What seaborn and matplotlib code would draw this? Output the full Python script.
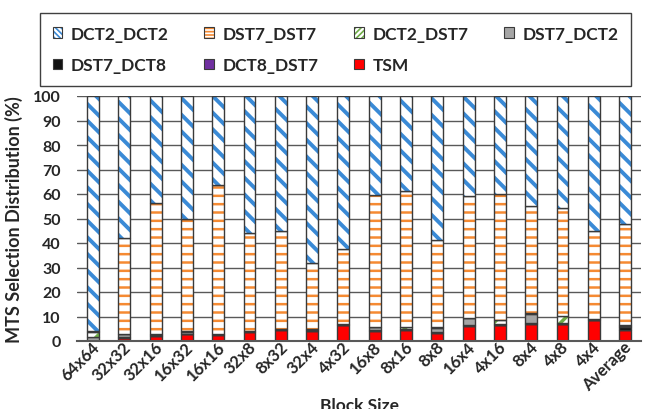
import numpy as np
import matplotlib
matplotlib.use("Agg")
import matplotlib.pyplot as plt
import seaborn as sns
from matplotlib.patches import Patch
from matplotlib.transforms import ScaledTranslation

# block sizes on the x axis
blocks = ["64x64", "32x32", "32x16", "16x32", "16x16", "32x8", "8x32", "32x4", "4x32",
          "16x8", "8x16", "8x8", "16x4", "4x16", "8x4", "4x8", "4x4", "Average"]

# selection share (%) per transform pair, stacked bottom -> top
tsm       = [0.0, 1.3, 2.0, 2.7, 2.5, 3.7, 4.5, 4.2, 6.5, 4.0, 4.5, 3.1, 6.2, 6.5, 7.0, 6.8, 8.5, 4.5]
dct8_dst7 = [0.0, 0.0, 0.0, 0.0, 0.0, 0.0, 0.0, 0.0, 0.0, 0.0, 0.0, 0.0, 0.0, 0.0, 0.0, 0.0, 0.0, 0.0]
dst7_dct8 = [0.0, 0.3, 0.5, 0.3, 0.2, 0.2, 0.2, 0.2, 0.1, 0.3, 0.3, 0.5, 0.3, 0.2, 0.2, 0.2, 0.1, 1.2]
dst7_dct2 = [1.5, 1.2, 0.3, 0.8, 0.2, 0.2, 0.2, 0.2, 0.2, 1.3, 0.3, 1.8, 2.8, 0.3, 4.0, 0.3, 0.2, 0.4]
dct2_dst7 = [2.0, 0.2, 0.2, 0.2, 0.1, 0.1, 0.1, 0.1, 0.1, 0.2, 0.6, 0.4, 0.2, 1.5, 0.2, 3.0, 0.1, 0.3]
dst7_dst7 = [0.5, 39.0, 53.3, 45.7, 60.7, 39.8, 39.9, 27.0, 30.8, 53.8, 55.4, 35.4, 49.5, 51.5, 43.6, 44.0, 35.9, 41.4]
dct2_dct2 = [96.0, 58.0, 43.7, 50.3, 36.3, 56.0, 55.1, 68.3, 62.3, 40.4, 38.9, 58.8, 41.0, 40.0, 45.0, 45.7, 55.2, 52.2]

sns.set_style("white")
plt.rcParams["font.family"] = ["Lato", "DejaVu Sans"]
plt.rcParams["font.weight"] = "bold"

fig = plt.figure(figsize=(6.52, 4.10), dpi=100)
ax = fig.add_axes([77.4 / 652, 68 / 410, 563.3 / 652, 245 / 410])

edge = "#3a3a3a"
# name, values, fill colour, hatch colour, hatch, hatch width, legend hatch
series = [
    ("TSM", tsm, "#ff0000", None, None, 0, None),
    ("DCT8_DST7", dct8_dst7, "#7030a0", None, None, 0, None),
    ("DST7_DCT8", dst7_dct8, "#111111", None, None, 0, None),
    ("DST7_DCT2", dst7_dct2, "#a5a5a5", None, None, 0, None),
    ("DCT2_DST7", dct2_dst7, "white", "#70ad47", "//", 2.5, "//////"),
    ("DST7_DST7", dst7_dst7, "white", "#f58a32", "--", 1.8, "-----"),
    ("DCT2_DCT2", dct2_dct2, "white", "#3a8ad6", "\\\\", 2.8, "\\\\\\\\\\\\"),
]

bottom = np.zeros(len(blocks))
handles = {}
for name, vals, color, hcol, hatch, hlw, lhatch in series:
    if hatch:
        plt.rcParams["hatch.linewidth"] = hlw
        sns.barplot(x=blocks, y=vals, bottom=bottom, color=color, edgecolor=hcol,
                    hatch=hatch, linewidth=0, width=0.38, saturation=1,
                    errorbar=None, ax=ax)
        handles[name] = (Patch(facecolor="white", edgecolor=hcol, hatch=lhatch, linewidth=0),
                         Patch(fill=False, edgecolor=edge, linewidth=0.8))
    else:
        sns.barplot(x=blocks, y=vals, bottom=bottom, color=color, linewidth=0,
                    width=0.38, saturation=1, errorbar=None, ax=ax)
        handles[name] = Patch(facecolor=color, edgecolor=edge, linewidth=0.8)
    sns.barplot(x=blocks, y=vals, bottom=bottom, fill=False, color=edge,
                linewidth=1.0, width=0.38, errorbar=None, ax=ax)
    bottom = bottom + np.array(vals)

ax.set_xlim(-0.5, len(blocks) - 0.5)
ax.set_ylim(0, 100)
ax.set_yticks(range(0, 101, 10))
ax.yaxis.grid(True, color="#595959", linewidth=1.0)
ax.set_axisbelow(True)
for s in ["left", "right", "top"]:
    ax.spines[s].set_visible(False)
ax.spines["bottom"].set_color("#595959")
ax.spines["bottom"].set_linewidth(1.5)
ax.tick_params(axis="y", length=0, pad=12, labelsize=11.5)
ax.tick_params(axis="x", length=0, pad=2)
ax.set_xticks(range(len(blocks)))
ax.set_xticklabels(blocks, rotation=45, ha="right", va="center",
                   rotation_mode="anchor", fontsize=12, fontweight="bold")
for lbl in ax.get_xticklabels():
    lbl.set_transform(lbl.get_transform() + ScaledTranslation(3 / 72, 0, fig.dpi_scale_trans))
ax.set_xlabel("")
ax.set_ylabel("MTS Selection Distribution (%)", fontsize=13, fontweight="bold", labelpad=7)
fig.text(360 / 652, 12 / 410, "Block Size", ha="center", va="top",
         fontsize=12.5, fontweight="bold")

order = ["DCT2_DCT2", "DST7_DCT8", "DST7_DST7", "DCT8_DST7", "DCT2_DST7", "TSM", "DST7_DCT2"]
plt.rcParams["hatch.linewidth"] = 1.2
leg = fig.legend([handles[n] for n in order], order, ncol=4, loc="upper left",
                 bbox_to_anchor=(31 / 652, 1 - 75 / 410, 609 / 652, 70 / 410), mode="expand",
                 fancybox=False, edgecolor="#404040", framealpha=1,
                 handlelength=0.55, handleheight=0.55, handletextpad=0.5,
                 borderpad=0.75, labelspacing=0.9,
                 prop={"weight": "bold", "size": 12.5})
leg.get_frame().set_linewidth(1.0)

fig.savefig("out.png", dpi=100)
